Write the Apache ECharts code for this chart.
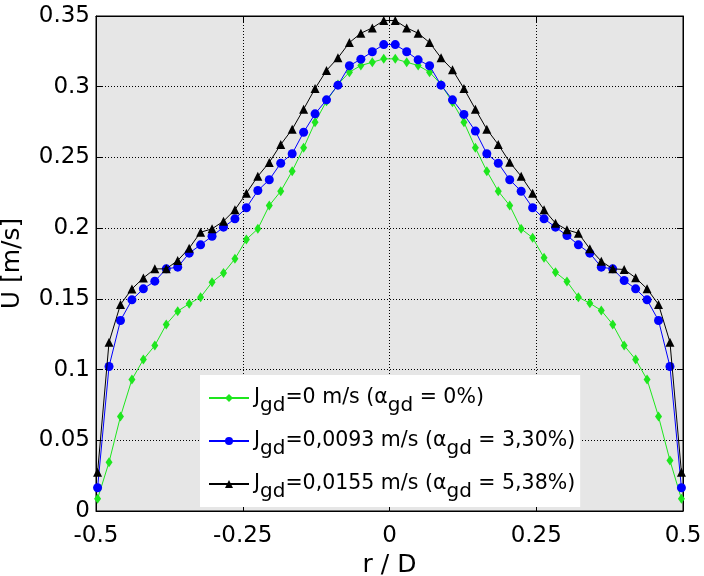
<!DOCTYPE html>
<html>
<head>
<meta charset="utf-8">
<script src="https://cdn.jsdelivr.net/npm/echarts@6/dist/echarts.min.js"></script>
<style>html,body{margin:0;padding:0;background:#fff}#c{width:704px;height:576px}</style>
</head>
<body>
<div id="c"></div>
<script>
var rD = [-0.4973,-0.4778,-0.4583,-0.4388,-0.4193,-0.3998,-0.3803,-0.3608,-0.3413,-0.3218,-0.3023,-0.2828,-0.2633,-0.2438,-0.2243,-0.2048,-0.1853,-0.1658,-0.1463,-0.1268,-0.1073,-0.0878,-0.0683,-0.0488,-0.0293,-0.0098,
  0.0098,0.0293,0.0488,0.0683,0.0878,0.1073,0.1268,0.1463,0.1658,0.1853,0.2048,0.2243,0.2438,0.2633,0.2828,0.3023,0.3218,0.3413,0.3608,0.3803,0.3998,0.4193,0.4388,0.4583,0.4778,0.4973];
var uG = [0.0086,0.0345,0.0668,0.093,0.1071,0.117,0.1319,0.1413,0.1465,0.1512,0.1618,0.1682,0.1783,0.192,0.1995,0.216,0.2261,0.2403,0.2568,0.2749,0.2898,0.3016,0.3103,0.315,0.3173,0.3197,
  0.3197,0.3173,0.315,0.3103,0.3016,0.2891,0.2749,0.2568,0.2403,0.2261,0.216,0.1995,0.1932,0.179,0.1688,0.1623,0.1512,0.1469,0.1418,0.1319,0.117,0.1071,0.093,0.0668,0.0357,0.0086];
var uB = [0.0164,0.1022,0.1347,0.1493,0.1571,0.1625,0.1712,0.1724,0.1823,0.1882,0.1943,0.2007,0.2066,0.2144,0.2266,0.2342,0.2459,0.2526,0.2678,0.2808,0.2907,0.3011,0.3148,0.3195,0.3247,0.3298,
  0.3298,0.3247,0.319,0.3148,0.3011,0.2907,0.2804,0.2686,0.2526,0.2459,0.2342,0.2261,0.2144,0.2066,0.2007,0.1948,0.1882,0.1823,0.1724,0.1712,0.163,0.1571,0.1493,0.1347,0.1022,0.0164];
var uK = [0.0274,0.1194,0.146,0.157,0.1648,0.1712,0.1712,0.1771,0.1858,0.1971,0.1995,0.2049,0.213,0.2247,0.2367,0.2465,0.2591,0.2699,0.2841,0.2987,0.3115,0.3204,0.3312,0.3378,0.3416,0.3468,
  0.3468,0.3416,0.3378,0.3312,0.3204,0.312,0.2987,0.2841,0.2699,0.2591,0.2466,0.2367,0.2247,0.213,0.2035,0.1988,0.1964,0.1854,0.1766,0.1712,0.1708,0.1649,0.1571,0.146,0.1194,0.0274];
var seriesNames = ['s0','s1','s2'];
var legendLabels = [
  '{m|J}{s|gd}{m|=0 m/s (α}{s|gd}{m| = 0%)}',
  '{m|J}{s|gd}{m|=0,0093 m/s (α}{s|gd}{m| = 3,30%)}',
  '{m|J}{s|gd}{m|=0,0155 m/s (α}{s|gd}{m| = 5,38%)}'
];
var xTicks = {min:-0.5, max:0.5, interval:0.25};
var yTicks = {min:0, max:0.35, interval:0.05};

function pairs(ys){ return rD.map(function(x,i){ return [x, ys[i]]; }); }

var FONT = 'DejaVu Sans';
var chart = echarts.init(document.getElementById('c'), null, {renderer:'canvas'});
var tickStyle = {show:true, inside:true, length:6, lineStyle:{color:'#000', width:1}};
var axLine = {show:true, onZero:false, lineStyle:{color:'#000', width:1}};
var grid = {show:true, type:[1,2], color:'#000', width:1};
chart.setOption({
  animation:false,
  backgroundColor:'#fff',
  grid:{left:96, right:21, top:16, bottom:65, containLabel:false, outerBoundsMode:'none',
        show:true, backgroundColor:'#e6e6e6', borderColor:'#000', borderWidth:1},
  xAxis:[{
    type:'value', min:xTicks.min, max:xTicks.max, interval:xTicks.interval,
    name:'r / D', nameLocation:'middle', nameGap:35,
    nameTextStyle:{fontFamily:FONT, fontSize:25, color:'#000'},
    axisLine:axLine, axisTick:tickStyle,
    axisLabel:{fontFamily:FONT, fontSize:23, color:'#000', margin:14},
    splitLine:{show:true, lineStyle:grid}
  },{
    type:'value', position:'top', min:xTicks.min, max:xTicks.max, interval:xTicks.interval,
    axisLine:axLine, axisTick:tickStyle, axisLabel:{show:false}, splitLine:{show:false}
  }],
  yAxis:[{
    type:'value', min:yTicks.min, max:yTicks.max, interval:yTicks.interval,
    name:'U [m/s]', nameLocation:'middle', nameGap:71,
    nameTextStyle:{fontFamily:FONT, fontSize:25, color:'#000'},
    axisLine:axLine, axisTick:tickStyle,
    axisLabel:{fontFamily:FONT, fontSize:23, color:'#000', margin:6},
    splitLine:{show:true, lineStyle:grid}
  },{
    type:'value', position:'right', min:yTicks.min, max:yTicks.max, interval:yTicks.interval,
    axisLine:axLine, axisTick:tickStyle, axisLabel:{show:false}, splitLine:{show:false}
  }],
  legend:{
    orient:'vertical', left:200, top:375,
    backgroundColor:'#fff', padding:[5,5,5,8], itemGap:7,
    itemWidth:40, itemHeight:10,
    data:seriesNames,
    formatter:function(n){ return legendLabels[seriesNames.indexOf(n)]; },
    textStyle:{
      color:'#000',
      rich:{
        m:{fontFamily:FONT, fontSize:20.5, color:'#000', lineHeight:24, verticalAlign:'middle'},
        s:{fontFamily:FONT, fontSize:20, color:'#000', lineHeight:24, verticalAlign:'middle', padding:[16,0,0,0]}
      }
    }
  },
  series:[
    {name:'s0', type:'line', data:pairs(uG), symbol:'diamond', symbolSize:[7,10],
     itemStyle:{color:'#1ee61e'}, lineStyle:{color:'#1ee61e', width:1}, z:2},
    {name:'s1', type:'line', data:pairs(uB), symbol:'circle', symbolSize:9,
     itemStyle:{color:'#0000ff'}, lineStyle:{color:'#0000ff', width:1}, z:3},
    {name:'s2', type:'line', data:pairs(uK), symbol:'triangle', symbolSize:[9,9],
     itemStyle:{color:'#000'}, lineStyle:{color:'#000', width:1}, z:4}
  ]
});
</script>
</body>
</html>
